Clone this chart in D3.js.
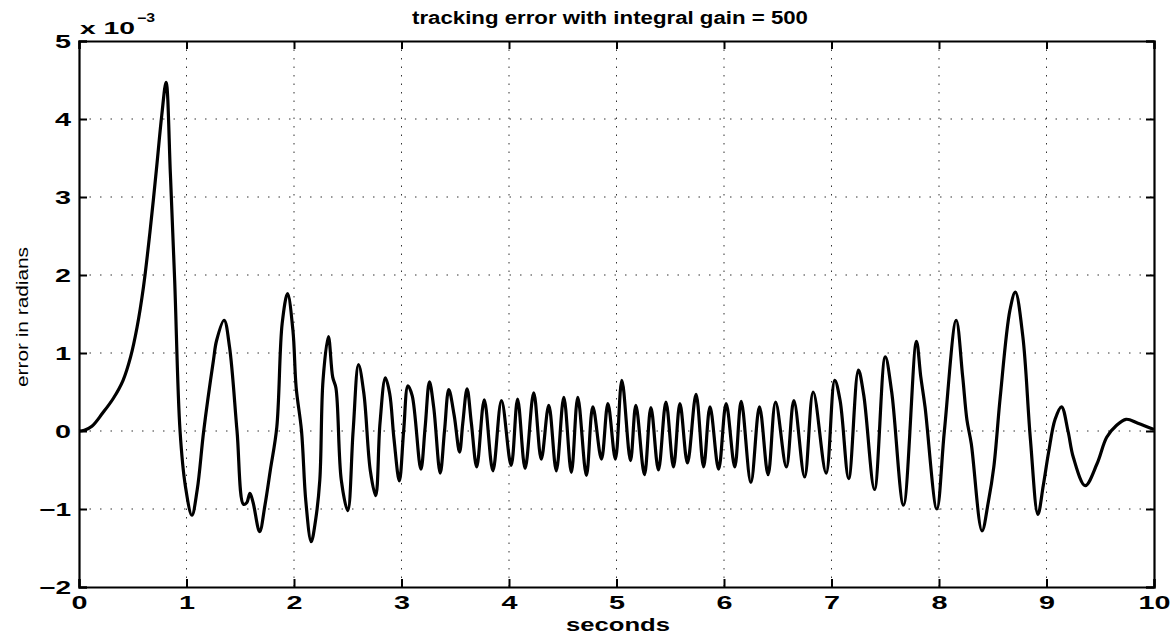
<!DOCTYPE html>
<html><head><meta charset="utf-8">
<script src="https://cdn.jsdelivr.net/npm/d3@7/dist/d3.min.js"></script>
<style>
html,body{margin:0;padding:0;background:#fff;}
svg{display:block;}
</style></head>
<body>
<svg id="chart" width="1174" height="634"></svg>
<script>
const title = "tracking error with integral gain = 500";
const xLabel = "seconds";
const yLabel = "error in radians";
const xTicks = [0,1,2,3,4,5,6,7,8,9,10];
const yTicks = [-2,-1,0,1,2,3,4,5];
const yTickLabels = ["\u22122","\u22121","0","1","2","3","4","5"];
// time in seconds
const timeSec = [
0.00,0.05,0.12,0.22,0.32,0.41,0.48,0.54,0.60,0.66,0.72,0.77,0.81,0.85,0.89,0.94,0.99,1.05,1.10,1.16,
1.25,1.28,1.35,1.40,1.47,1.53,1.56,1.59,1.62,1.68,1.73,1.78,1.84,1.89,1.94,1.99,2.02,2.07,2.11,2.16,
2.20,2.24,2.27,2.32,2.36,2.39,2.44,2.50,2.55,2.60,2.65,2.71,2.76,2.80,2.85,2.89,2.93,2.98,3.02,3.06,
3.10,3.18,3.22,3.26,3.30,3.36,3.40,3.44,3.49,3.54,3.57,3.61,3.65,3.70,3.77,3.85,3.93,4.02,4.08,4.15,
4.23,4.30,4.37,4.44,4.51,4.58,4.64,4.72,4.78,4.86,4.92,4.99,5.05,5.13,5.18,5.26,5.32,5.39,5.46,5.53,
5.59,5.66,5.74,5.81,5.87,5.95,6.02,6.10,6.16,6.25,6.33,6.41,6.48,6.58,6.65,6.75,6.83,6.95,7.03,7.08,
7.16,7.25,7.30,7.40,7.50,7.56,7.67,7.79,7.83,7.87,7.98,8.05,8.16,8.22,8.26,8.30,8.40,8.46,8.51,8.57,
8.66,8.71,8.78,8.85,8.92,8.97,9.02,9.08,9.14,9.20,9.25,9.36,9.47,9.56,9.65,9.74,9.85,10.0];
// tracking error, units of 1e-3 rad
const errorMilliRad = [
0.00,0.01,0.06,0.23,0.42,0.65,0.95,1.33,1.85,2.55,3.35,4.05,4.47,3.30,1.93,0.00,-0.71,-1.08,-0.75,0.00,
0.90,1.16,1.42,1.08,0.00,-0.94,-0.92,-0.80,-0.92,-1.29,-0.95,-0.50,0.05,1.38,1.76,1.29,0.56,0.00,-0.90,-1.42,
-1.15,-0.63,0.65,1.21,0.69,0.55,-0.63,-1.02,0.00,0.85,0.48,-0.51,-0.83,0.10,0.68,0.48,-0.10,-0.64,0.00,0.58,
0.45,-0.49,0.05,0.63,0.30,-0.54,0.00,0.53,0.20,-0.27,0.10,0.54,0.10,-0.46,0.40,-0.51,0.39,-0.44,0.41,-0.48,
0.49,-0.36,0.33,-0.51,0.43,-0.53,0.43,-0.57,0.31,-0.36,0.35,-0.36,0.65,-0.38,0.33,-0.56,0.30,-0.50,0.37,-0.46,
0.35,-0.41,0.47,-0.46,0.31,-0.49,0.35,-0.46,0.38,-0.66,0.31,-0.56,0.37,-0.46,0.39,-0.59,0.50,-0.54,0.65,0.39,
-0.61,0.78,0.46,-0.75,0.95,0.50,-0.95,1.15,0.70,0.31,-1.00,0.00,1.42,0.70,0.14,-0.16,-1.28,-0.90,-0.46,0.44,
1.55,1.78,1.21,-0.10,-1.07,-0.70,-0.27,0.15,0.31,0.00,-0.34,-0.70,-0.42,-0.08,0.07,0.15,0.10,0.02];

const svg = d3.select("#chart");
const L = 79, R = 1154, T = 41, B = 587;
const x = d3.scaleLinear().domain([0,10]).range([L,R]);
const y = d3.scaleLinear().domain([-2,5]).range([B,T]);
const font = "'Liberation Sans', Arial, Helvetica, sans-serif";

// grid
const g = svg.append("g");
g.selectAll(".vg").data(xTicks.slice(1,-1)).enter().append("line")
 .attr("x1",d=>x(d)).attr("x2",d=>x(d)).attr("y1",T).attr("y2",B)
 .attr("stroke","#333").attr("stroke-width",1).attr("stroke-dasharray","1.5,7");
g.selectAll(".hg").data(yTicks.slice(1,-1)).enter().append("line")
 .attr("x1",L).attr("x2",R).attr("y1",d=>y(d)).attr("y2",d=>y(d))
 .attr("stroke","#333").attr("stroke-width",1).attr("stroke-dasharray","1.5,9");

// axes
const xAxis = d3.axisBottom(x).tickValues(xTicks).tickSize(-8).tickPadding(9).tickFormat(d3.format("d"));
const yAxis = d3.axisLeft(y).tickValues(yTicks).tickSize(-8).tickPadding(8).tickFormat((d,i)=>yTickLabels[i]);
const xa = svg.append("g").attr("transform",`translate(0,${B})`).call(xAxis);
const ya = svg.append("g").attr("transform",`translate(${L},0)`).call(yAxis);
const xaT = svg.append("g").attr("transform",`translate(0,${T})`).call(d3.axisTop(x).tickValues(xTicks).tickSize(-8).tickFormat(""));
const yaR = svg.append("g").attr("transform",`translate(${R},0)`).call(d3.axisRight(y).tickValues(yTicks).tickSize(-8).tickFormat(""));
[xa,ya,xaT,yaR].forEach(a=>{
  a.select(".domain").attr("stroke","#000").attr("stroke-width",2.2);
  a.selectAll(".tick line").attr("stroke","#000").attr("stroke-width",2);
  a.selectAll("text").attr("font-family",font).attr("font-weight","bold").attr("font-size",18).attr("fill","#000")
   .attr("textLength",function(){return this.textContent.length*16;}).attr("lengthAdjust","spacingAndGlyphs");
});
xa.selectAll(".tick text").attr("dy","0.71em");
ya.selectAll(".tick text").attr("dy","0.36em");

// line
const line = d3.line().x(d=>x(d[0])).y(d=>y(d[1])).curve(d3.curveCatmullRom.alpha(0.5));
const pts = timeSec.map((t,i)=>[t,errorMilliRad[i]]);
svg.append("path").datum(pts).attr("d",line).attr("fill","none")
 .attr("stroke","#000").attr("stroke-width",3.2).attr("stroke-linejoin","round");

// texts
svg.append("text").attr("x",610).attr("y",24).attr("text-anchor","middle")
 .attr("font-family",font).attr("font-weight","bold").attr("font-size",18)
 .attr("textLength",396).attr("lengthAdjust","spacingAndGlyphs").text(title);
svg.append("text").attr("x",618).attr("y",631).attr("text-anchor","middle")
 .attr("font-family",font).attr("font-weight","bold").attr("font-size",18)
 .attr("textLength",104).attr("lengthAdjust","spacingAndGlyphs").text(xLabel);
svg.append("text").attr("transform","translate(28,317) rotate(-90)").attr("text-anchor","middle")
 .attr("font-family","'Liberation Sans Narrow', "+font).attr("font-size",17)
 .attr("textLength",140).attr("lengthAdjust","spacingAndGlyphs").text(yLabel);
svg.append("text").attr("x",80).attr("y",34)
 .attr("font-family",font).attr("font-weight","bold").attr("font-size",16)
 .attr("textLength",55).attr("lengthAdjust","spacingAndGlyphs").text("x 10");
svg.append("text").attr("x",137).attr("y",22)
 .attr("font-family",font).attr("font-weight","bold").attr("font-size",12)
 .attr("textLength",18).attr("lengthAdjust","spacingAndGlyphs").text("\u22123");
</script>
</body></html>
